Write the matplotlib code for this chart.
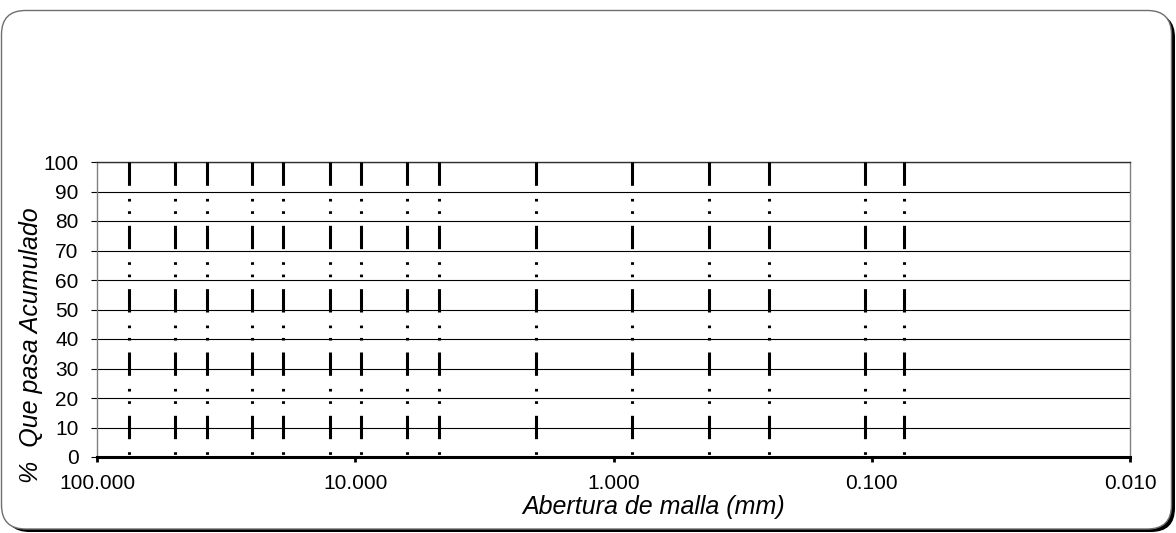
import matplotlib
matplotlib.use("Agg")
import matplotlib.pyplot as plt
from matplotlib.patches import FancyBboxPatch
from matplotlib.ticker import NullLocator, FixedLocator, FixedFormatter

plt.rcParams['font.family'] = ['Liberation Sans', 'DejaVu Sans']
plt.rcParams['lines.scale_dashes'] = False

# Sieve openings (mm) drawn as reference lines
abertura = [75, 50, 37.5, 25, 19, 12.5, 9.5, 6.3, 4.75, 2.0, 0.85, 0.425, 0.25, 0.106, 0.075]
x_ticks = [100, 10, 1, 0.1, 0.01]
x_tick_labels = ['100.000', '10.000', '1.000', '0.100', '0.010']
y_ticks = list(range(0, 101, 10))

W, H = 1176, 533
fig = plt.figure(figsize=(W / 100, H / 100), dpi=100)

# Background frame: rounded box with a dark drop shadow
bg = fig.add_axes([0, 0, 1, 1], zorder=-5)
bg.set_xlim(0, W)
bg.set_ylim(H, 0)
bg.axis('off')
shadow = FancyBboxPatch((5.5, 13.5), 1169.5, 518.5, boxstyle="round,pad=0,rounding_size=24",
                        fc='black', ec='black', lw=0)
frame = FancyBboxPatch((1.5, 10.5), 1170, 518.5, boxstyle="round,pad=0,rounding_size=24",
                       fc='white', ec='#6e6e6e', lw=1.0)
bg.add_patch(shadow)
bg.add_patch(frame)

left, right, top, bottom = 97, 1130, 162, 457
ax = fig.add_axes([left / W, (H - bottom) / H, (right - left) / W, (bottom - top) / H])
ax.set_facecolor('none')

ax.set_xscale('log')
ax.set_xlim(100, 0.01)
ax.set_ylim(0, 100)

ax.xaxis.set_major_locator(FixedLocator(x_ticks))
ax.xaxis.set_major_formatter(FixedFormatter(x_tick_labels))
ax.xaxis.set_minor_locator(NullLocator())
ax.set_yticks(y_ticks)

ax.yaxis.grid(True, color='black', lw=0.8)
ax.set_axisbelow(True)

# Dash-dot-dot reference lines at each sieve opening
dash = (0, (16.8, 9.4, 1.9, 7.0, 1.9, 8.6))
for a in abertura:
    ax.plot([a, a], [100, 0], color='black', lw=2.2, linestyle=dash,
            dash_capstyle='butt', zorder=3)

for s in ('left', 'right'):
    ax.spines[s].set_color('#808080')
    ax.spines[s].set_linewidth(1.0)
ax.spines['top'].set_color('#303030')
ax.spines['top'].set_linewidth(1.0)
ax.spines['bottom'].set_color('black')
ax.spines['bottom'].set_linewidth(2.2)

ax.tick_params(axis='y', direction='out', length=4.3, width=0.8, color='black',
               pad=9, labelsize=15)
ax.tick_params(axis='x', direction='out', length=3.5, width=2.0, color='black',
               pad=8.5, labelsize=15)

fig.text(654 / W, 1 - 507 / H, 'Abertura de malla (mm)', ha='center', va='center',
         fontsize=18, style='italic')
fig.text(31 / W, 1 - 345 / H, '%  Que pasa Acumulado', ha='center', va='center',
         rotation=90, fontsize=18, style='italic')

fig.savefig('out.png', dpi=100)
